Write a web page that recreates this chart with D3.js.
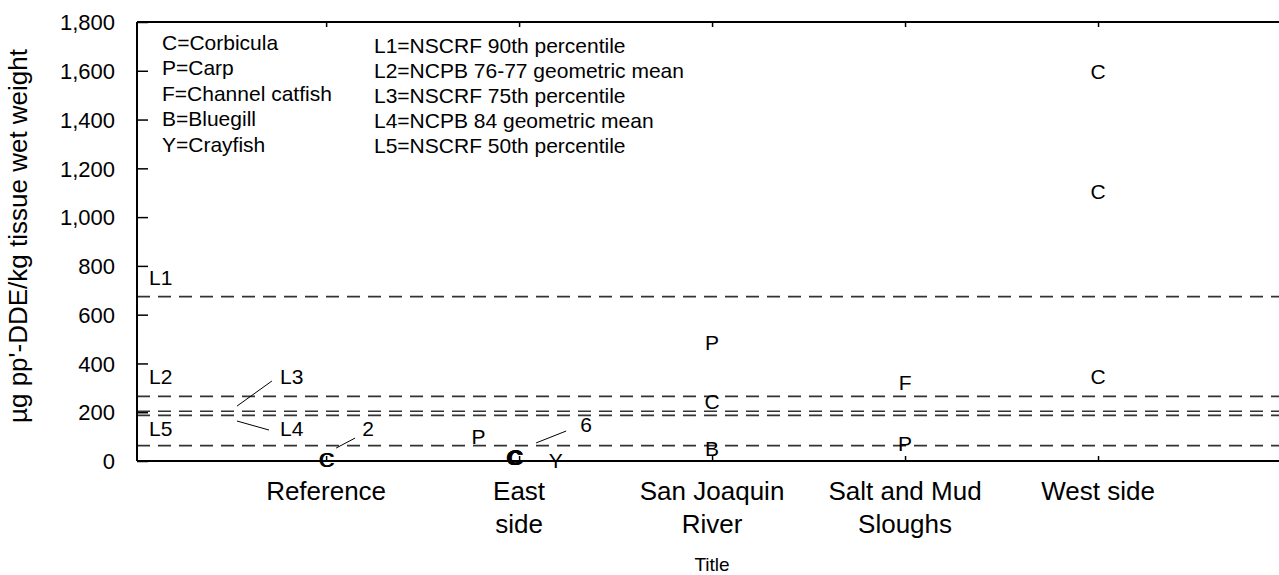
<!DOCTYPE html>
<html>
<head>
<meta charset="utf-8">
<title>pp'-DDE in tissue</title>
<style>
  body { margin: 0; background: white; }
  svg text { font-family: "Liberation Sans", Arial, sans-serif; fill: black; }
</style>
</head>
<body>
<div class="chart"></div>
<script src="https://d3js.org/d3.v7.min.js"></script>
<script>
// categories along the x axis (line breaks as in the picture)
var categories = [["Reference"], ["East", "side"], ["San Joaquin", "River"], ["Salt and Mud", "Sloughs"], ["West side"]];
var yTicks = [0, 200, 400, 600, 800, 1000, 1200, 1400, 1600, 1800];

// one entry per sample: species letter, site (1..5), small x shift, value
var sampleSpecies = ["C", "C", "P", "C", "C", "C", "C", "C", "C", "Y", "P", "C", "B", "F", "P", "C", "C", "C"];
var sampleSite    = [1, 1, 2, 2, 2, 2, 2, 2, 2, 2, 3, 3, 3, 4, 4, 5, 5, 5];
var sampleShift   = [0, 0.006, -0.21, -0.03, -0.026, -0.022, -0.018, -0.014, -0.02, 0.19, 0, 0, 0, 0, 0, 0, 0, 0];
var sampleValues  = [6, 8, 100, 14, 16, 18, 16, 14, 17, 4, 485, 243, 53, 324, 70, 1596, 1104, 348];

// reference levels
var levelNames = ["L1", "L2", "L3", "L4", "L5"];
var levelValues = [674, 265, 204, 187, 63];

var speciesLegend = ["C=Corbicula", "P=Carp", "F=Channel catfish", "B=Bluegill", "Y=Crayfish"];
var levelLegend = ["L1=NSCRF 90th percentile", "L2=NCPB 76-77 geometric mean", "L3=NSCRF 75th percentile",
                   "L4=NCPB 84 geometric mean", "L5=NSCRF 50th percentile"];

// level labels and count notes, in data units
var levelLabelX = [0.082, 0.082, 0.761, 0.761, 0.082];
var levelLabelY = [754, 346, 346, 135, 135];
var levelLeaders = [null, null, [[0.538, 225], [0.719, 328]], [[0.538, 164], [0.704, 127]], null];
var countText = ["2", "6"];
var countX = [1.218, 2.347];
var countY = [135, 148];
var countLeaders = [[[1.052, 53], [1.150, 94]], [[2.088, 74], [2.244, 123]]];

var W = 1279, H = 575;
var margin = {top: 22, left: 137};
var width = 1154, height = 439;

var svg = d3.select(".chart").append("svg")
    .attr("width", W).attr("height", H);
var g = svg.append("g")
    .attr("transform", "translate(" + margin.left + "," + margin.top + ")");

var x = d3.scaleLinear().domain([0.02, 6]).range([0, width]);
var y = d3.scaleLinear().domain([0, 1800]).range([height, 0]);

// dashed reference lines
g.selectAll(".level")
    .data(levelValues)
    .enter().append("line")
    .attr("class", "level")
    .attr("x1", 0).attr("x2", width)
    .attr("y1", function(d) { return y(d); })
    .attr("y2", function(d) { return y(d); })
    .attr("stroke", "#333").attr("stroke-width", 1.6)
    .attr("stroke-dasharray", "13,8");

// left axis, ticks inward
var yAxis = d3.axisLeft(y).tickValues(yTicks).tickSize(-11).tickPadding(22)
    .tickFormat(d3.format(","));
var ya = g.append("g").call(yAxis);
ya.select(".domain").remove();
ya.selectAll("line").attr("stroke", "#000").attr("stroke-width", 1.5);
ya.selectAll("text").style("font-size", "22px").attr("dy", "0.35em");
g.append("line").attr("x1", 0).attr("x2", 0).attr("y1", 0).attr("y2", height)
    .attr("stroke", "#000").attr("stroke-width", 2);

// right axis ticks only
var yr = g.append("g").attr("transform", "translate(" + width + ",0)")
    .call(d3.axisRight(y).tickValues(yTicks).tickSize(-12).tickFormat(""));
yr.select(".domain").remove();
yr.selectAll("line").attr("stroke", "#000").attr("stroke-width", 1.5);

// bottom axis
var xb = g.append("g").attr("transform", "translate(0," + height + ")")
    .call(d3.axisBottom(x).tickValues([1, 2, 3, 4, 5]).tickSize(-5).tickFormat(""));
xb.select(".domain").remove();
xb.selectAll("line").attr("stroke", "#000").attr("stroke-width", 1.5);
g.append("line").attr("x1", 0).attr("x2", width).attr("y1", height).attr("y2", height)
    .attr("stroke", "#000").attr("stroke-width", 2);

// top axis
var xt = g.append("g")
    .call(d3.axisTop(x).tickValues([1, 2, 3, 4, 5]).tickSize(-5).tickFormat(""));
xt.select(".domain").remove();
xt.selectAll("line").attr("stroke", "#000").attr("stroke-width", 1.5);
g.append("line").attr("x1", 0).attr("x2", width).attr("y1", 0).attr("y2", 0)
    .attr("stroke", "#000").attr("stroke-width", 2);

// category labels
categories.forEach(function(lines, i) {
    var t = g.append("text")
        .attr("x", x(i + 1))
        .attr("y", height + 39)
        .attr("text-anchor", "middle")
        .style("font-size", "26px");
    lines.forEach(function(s, j) {
        t.append("tspan").attr("x", x(i + 1)).attr("dy", j ? 33 : 0).text(s);
    });
});

// axis titles
g.append("text")
    .attr("x", x(3)).attr("y", height + 110)
    .attr("text-anchor", "middle")
    .style("font-size", "19px")
    .text("Title");
svg.append("text")
    .attr("transform", "translate(27,236) rotate(-90)")
    .attr("text-anchor", "middle")
    .style("font-size", "26px")
    .text("\u00b5g pp'-DDE/kg tissue wet weight");

// samples as letters
g.selectAll(".sample")
    .data(sampleValues)
    .enter().append("text")
    .attr("class", "sample")
    .attr("x", function(d, i) { return x(sampleSite[i] + sampleShift[i]); })
    .attr("y", function(d) { return y(d); })
    .attr("dy", "0.36em")
    .attr("text-anchor", "middle")
    .style("font-size", "21px")
    .text(function(d, i) { return sampleSpecies[i]; });

// level labels
g.selectAll(".lvl-label")
    .data(levelNames)
    .enter().append("text")
    .attr("x", function(d, i) { return x(levelLabelX[i]); })
    .attr("y", function(d, i) { return y(levelLabelY[i]); })
    .attr("dy", "0.36em")
    .style("font-size", "21px")
    .text(function(d) { return d; });

var leader = d3.line().x(function(p) { return x(p[0]); }).y(function(p) { return y(p[1]); });
levelLeaders.concat(countLeaders).forEach(function(seg) {
    if (!seg) return;
    g.append("path").attr("d", leader(seg))
        .attr("fill", "none").attr("stroke", "#000").attr("stroke-width", 1);
});

g.selectAll(".count")
    .data(countText)
    .enter().append("text")
    .attr("x", function(d, i) { return x(countX[i]); })
    .attr("y", function(d, i) { return y(countY[i]); })
    .attr("dy", "0.36em")
    .attr("text-anchor", "middle")
    .style("font-size", "21px")
    .text(function(d) { return d; });

// key text blocks
svg.selectAll(".key1")
    .data(speciesLegend)
    .enter().append("text")
    .attr("x", 162)
    .attr("y", function(d, i) { return 42 + i * 25.5; })
    .attr("dy", "0.36em")
    .style("font-size", "21px")
    .text(function(d) { return d; });
svg.selectAll(".key2")
    .data(levelLegend)
    .enter().append("text")
    .attr("x", 374)
    .attr("y", function(d, i) { return 45 + i * 25; })
    .attr("dy", "0.36em")
    .style("font-size", "21px")
    .text(function(d) { return d; });
</script>
</body>
</html>
